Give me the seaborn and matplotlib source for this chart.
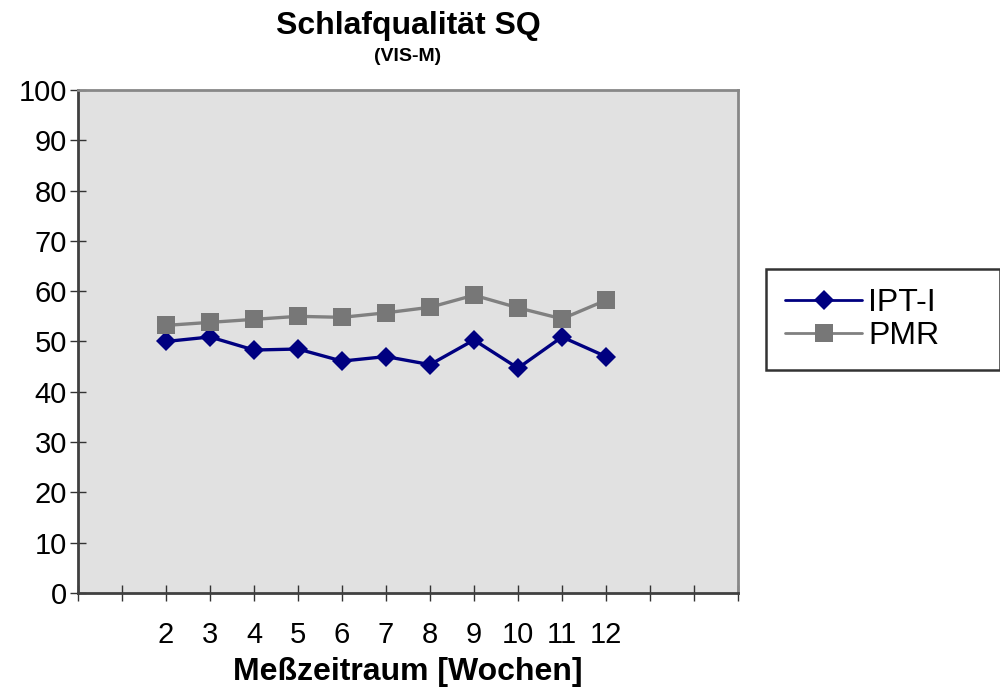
import matplotlib
matplotlib.use("Agg")
import matplotlib.pyplot as plt
import seaborn as sns
import pandas as pd

weeks = [2, 3, 4, 5, 6, 7, 8, 9, 10, 11, 12]
ipt_i = [50.0, 50.9, 48.3, 48.5, 46.1, 47.0, 45.4, 50.3, 44.7, 50.9, 47.0]
pmr = [53.2, 53.8, 54.4, 55.0, 54.8, 55.7, 56.8, 59.2, 56.7, 54.5, 58.2]
series_names = ["IPT-I", "PMR"]
y_ticks = [0, 10, 20, 30, 40, 50, 60, 70, 80, 90, 100]

df = pd.DataFrame({"Woche": weeks * 2,
                   "Wert": ipt_i + pmr,
                   "Gruppe": [series_names[0]] * len(weeks) + [series_names[1]] * len(weeks)})

sns.set_theme(style="white")
plt.rcParams['font.family'] = ['Liberation Sans', 'DejaVu Sans']
plt.rcParams['text.color'] = 'black'
plt.rcParams['xtick.color'] = 'black'
plt.rcParams['ytick.color'] = 'black'
plt.rcParams['axes.labelcolor'] = 'black'

fig = plt.figure(figsize=(10, 6.9), dpi=100)
ax = fig.add_axes([0.078, 0.1406, 0.660, 0.729])
ax.set_facecolor("#e1e1e1")

sns.lineplot(data=df, x="Woche", y="Wert", hue="Gruppe", style="Gruppe",
             palette={"IPT-I": "#000080", "PMR": "#808080"},
             markers={"IPT-I": "D", "PMR": "s"}, dashes=False,
             markersize=11, linewidth=2.4, markeredgewidth=0, ax=ax, legend=True)
for ln in ax.lines:
    if ln.get_marker() == "D":
        ln.set_markersize(10.5)
    else:
        ln.set_markersize(12.5)
        ln.set_markerfacecolor("#777777")

ax.set_xlim(0, 15)
ax.set_ylim(0, 100)
ax.set_xticks(range(0, 16))
ax.set_xticklabels([str(i) if i in weeks else "" for i in range(0, 16)], fontsize=21)
ax.set_yticks(y_ticks)
ax.set_yticklabels([str(v) for v in y_ticks], fontsize=21)
ax.tick_params(axis="x", bottom=True, direction="inout", length=12, width=1,
               color="#333333", labelcolor="black", pad=14)
ax.tick_params(axis="y", left=True, direction="inout", length=12, width=1,
               color="#333333", labelcolor="black", pad=2)
for s in ["left", "bottom"]:
    ax.spines[s].set_color("#404040")
    ax.spines[s].set_linewidth(2)
for s in ["top", "right"]:
    ax.spines[s].set_color("#888888")
    ax.spines[s].set_linewidth(2)

ax.set_xlabel("Meßzeitraum [Wochen]", fontsize=23, fontweight="bold",
              labelpad=6, color="black")
ax.set_ylabel("")

fig.text(0.408, 0.962, "Schlafqualität SQ", ha="center", va="center",
         fontsize=23, fontweight="bold", color="black")
fig.text(0.408, 0.918, "(VIS-M)", ha="center", va="center",
         fontsize=14, fontweight="bold", color="black")

handles, labels = ax.get_legend_handles_labels()
leg = ax.legend(handles, labels, loc="center left",
                bbox_to_anchor=(0.766, 0.462, 0.234, 0.150),
                bbox_transform=fig.transFigure, mode="expand",
                fontsize=23, frameon=True, fancybox=False,
                handlelength=2.4, handletextpad=0.2, borderpad=0.6,
                labelspacing=0.08, borderaxespad=0)
for t in leg.get_texts():
    t.set_color("black")
for h in leg.legend_handles:
    h.set_linewidth(2.0)
leg.get_frame().set_edgecolor("black")
leg.get_frame().set_linewidth(1.8)
leg.get_frame().set_facecolor("white")

fig.savefig("out.png", dpi=100)
